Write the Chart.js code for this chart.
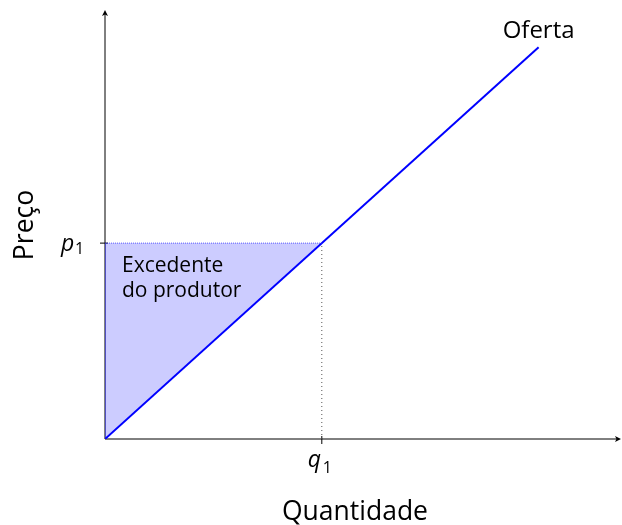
<!DOCTYPE html>
<html>
<head>
<meta charset="utf-8">
<script src="https://cdn.jsdelivr.net/npm/chart.js@4"></script>
<style>
  html, body { margin: 0; padding: 0; background: #fff; }
  #wrap { width: 622px; height: 525px; }
</style>
</head>
<body>
<div id="wrap"><canvas id="chart" width="622" height="525"></canvas></div>
<script>
"use strict";

// données
const offreX = [0, 10];
const offreY = [0, 10];
const q1 = 5;
const p1 = 5;
const axeX = [0, 11.9];
const axeY = [0, 10.95];

const FONT = "'Open Sans', sans-serif";

// axes avec flèches + annotations
const decor = {
    id: "decor",
    beforeDatasetsDraw(chart) {
        const { ctx, scales: { x, y } } = chart;
        const x0 = x.getPixelForValue(0), y0 = y.getPixelForValue(0);
        const xe = x.getPixelForValue(axeX[1]), ye = y.getPixelForValue(axeY[1]);
        ctx.save();
        ctx.strokeStyle = "#000";
        ctx.fillStyle = "#000";
        ctx.lineWidth = 1;
        ctx.beginPath();
        ctx.moveTo(x0, y0); ctx.lineTo(xe - 2, y0);
        ctx.moveTo(x0, y0); ctx.lineTo(x0, ye + 2);
        ctx.stroke();
        // flèches
        ctx.beginPath();
        ctx.moveTo(xe, y0); ctx.lineTo(xe - 6, y0 - 3); ctx.lineTo(xe - 4.5, y0); ctx.lineTo(xe - 6, y0 + 3); ctx.closePath();
        ctx.moveTo(x0, ye); ctx.lineTo(x0 - 3, ye + 6); ctx.lineTo(x0, ye + 4.5); ctx.lineTo(x0 + 3, ye + 6); ctx.closePath();
        ctx.fill();
        // graduations
        const px = x.getPixelForValue(q1), py = y.getPixelForValue(p1);
        ctx.beginPath();
        ctx.moveTo(px, y0 - 3); ctx.lineTo(px, y0 + 5);
        ctx.moveTo(x0 - 5, py); ctx.lineTo(x0 + 3, py);
        ctx.stroke();
        ctx.restore();
    },
    afterDatasetsDraw(chart) {
        const { ctx, scales: { x, y } } = chart;
        const x0 = x.getPixelForValue(0), y0 = y.getPixelForValue(0);
        const px = x.getPixelForValue(q1), py = y.getPixelForValue(p1);
        ctx.save();
        ctx.fillStyle = "#000";
        ctx.textBaseline = "alphabetic";

        ctx.font = "24px " + FONT;
        ctx.textAlign = "center";
        ctx.fillText("Oferta", x.getPixelForValue(offreX[1]), 38);

        ctx.font = "21px " + FONT;
        ctx.textAlign = "left";
        ctx.fillText("Excedente", x0 + 17, 272);
        ctx.fillText("do produtor", x0 + 17, 297);

        ctx.font = "26.5px " + FONT;
        ctx.textAlign = "center";
        ctx.fillText("Quantidade", 355, 520);
        ctx.save();
        ctx.translate(33, 225);
        ctx.rotate(-Math.PI / 2);
        ctx.fillText("Preço", 0, 0);
        ctx.restore();

        // p1 / q1
        ctx.textAlign = "left";
        ctx.font = "italic 23px " + FONT;
        ctx.fillText("p", 61, py + 8);
        ctx.fillText("q", px - 14, y0 + 28);
        ctx.font = "16px " + FONT;
        ctx.fillText("1", 75, py + 11);
        ctx.fillText("1", px + 1, y0 + 34);
        ctx.restore();
    }
};

new Chart(document.getElementById("chart"), {
    type: "scatter",
    data: {
        datasets: [
            {   // bord supérieur du surplus, rempli jusqu'à la courbe d'offre
                data: [{ x: 0, y: p1 }, { x: q1, y: p1 }],
                showLine: true,
                borderColor: "rgba(60,60,255,0.8)",
                borderWidth: 1,
                borderDash: [1, 1],
                backgroundColor: "rgba(0,0,255,0.2)",
                fill: "+1",
                pointRadius: 0
            },
            {   // offre
                data: offreX.map((v, i) => ({ x: v, y: offreY[i] })),
                showLine: true,
                borderColor: "#0000ff",
                borderWidth: 2,
                pointRadius: 0,
                fill: false
            },
            {   // bord gauche du surplus
                data: [{ x: 0, y: 0 }, { x: 0, y: p1 }],
                showLine: true,
                borderColor: "rgba(60,60,255,0.8)",
                borderWidth: 1,
                pointRadius: 0,
                fill: false
            },
            {   // pointillé q1
                data: [{ x: q1, y: 0 }, { x: q1, y: p1 }],
                showLine: true,
                borderColor: "#555",
                borderWidth: 1,
                borderDash: [1, 3],
                pointRadius: 0,
                fill: false
            }
        ]
    },
    options: {
        responsive: false,
        animation: false,
        layout: { padding: { left: 105, right: 1, top: 10, bottom: 86 } },
        plugins: { legend: { display: false }, tooltip: { enabled: false } },
        scales: {
            x: { type: "linear", min: axeX[0], max: axeX[1], display: false },
            y: { type: "linear", min: axeY[0], max: axeY[1], display: false }
        }
    },
    plugins: [decor]
});
</script>
</body>
</html>
